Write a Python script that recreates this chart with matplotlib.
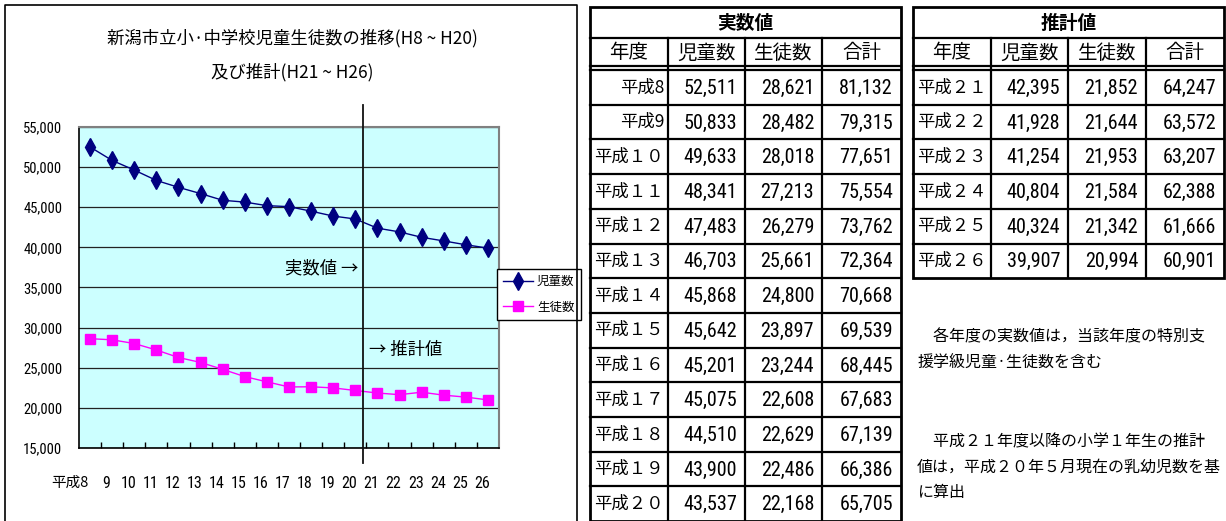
import matplotlib
matplotlib.use('Agg')
import matplotlib.pyplot as plt
from matplotlib import font_manager
from matplotlib.font_manager import FontProperties
from matplotlib.patches import Rectangle
from matplotlib.transforms import ScaledTranslation
from matplotlib.ticker import FuncFormatter, FixedLocator

W, H = 1226, 521
JP = 'Noto Sans CJK JP'

# narrow font for the numbers if one is around
narrow_path = None
for key in ['LiberationSansNarrow-Regular', 'RobotoCondensed-Regular', 'DejaVuSansCondensed.ttf']:
    for f in font_manager.fontManager.ttflist:
        if key in f.fname:
            narrow_path = f.fname
            break
    if narrow_path:
        break
NUM_SCALE = 1.0
if narrow_path is None:
    narrow_path = font_manager.findfont('Liberation Sans')
    NUM_SCALE = 0.93
elif 'DejaVu' in narrow_path:
    NUM_SCALE = 0.9


def num_font(size):
    return FontProperties(fname=narrow_path, size=size * NUM_SCALE)


plt.rcParams['font.family'] = [JP, 'DejaVu Sans']

# --- data ---
chart_labels = ['平成8', '9', '10', '11', '12', '13', '14', '15', '16', '17',
                '18', '19', '20', '21', '22', '23', '24', '25', '26']

years_actual = ['平成8', '平成9', '平成１０', '平成１１', '平成１２', '平成１３', '平成１４',
                '平成１５', '平成１６', '平成１７', '平成１８', '平成１９', '平成２０']
children_actual = [52511, 50833, 49633, 48341, 47483, 46703, 45868, 45642, 45201, 45075, 44510, 43900, 43537]
students_actual = [28621, 28482, 28018, 27213, 26279, 25661, 24800, 23897, 23244, 22608, 22629, 22486, 22168]
total_actual = [81132, 79315, 77651, 75554, 73762, 72364, 70668, 69539, 68445, 67683, 67139, 66386, 65705]

years_est = ['平成２１', '平成２２', '平成２３', '平成２４', '平成２５', '平成２６']
children_est = [42395, 41928, 41254, 40804, 40324, 39907]
students_est = [21852, 21644, 21953, 21584, 21342, 20994]
total_est = [64247, 63572, 63207, 62388, 61666, 60901]

col_heads = ['年度', '児童数', '生徒数', '合計']

note1 = ['\u3000各年度の実数値は，当該年度の特別支', '援学級児童·生徒数を含む']
note2 = ['\u3000平成２１年度以降の小学１年生の推計', '値は，平成２０年５月現在の乳幼児数を基', 'に算出']


def fx(x):
    return x / W


def fy(y):
    return 1 - y / H


fig = plt.figure(figsize=(W / 100, H / 100), dpi=100)
fig.patch.set_facecolor('white')

# overlay in pixel coordinates for frame / tables / notes
ov = fig.add_axes([0, 0, 1, 1])
ov.set_xlim(0, W)
ov.set_ylim(H, 0)
ov.axis('off')

# chart frame
ov.plot([5, 5, 577, 577], [H + 5, 5, 5, H + 5], color='black', lw=1.2, clip_on=False)

# title
ov.text(292, 38, '新潟市立小·中学校児童生徒数の推移(H8 ~ H20)', ha='center', va='center', fontsize=12.5)
ov.text(292, 72, '及び推計(H21 ~ H26)', ha='center', va='center', fontsize=12.5)


def draw_table(edges, title, labels, c1, c2, c3):
    top, r1, r2 = 7, 38, 66
    y0, rh = 70, 34.7
    n = len(labels)
    bottom = y0 + n * rh
    left, right = edges[0], edges[-1]
    ov.add_patch(Rectangle((left, top), right - left, bottom - top, fill=False,
                           ec='black', lw=2.0, clip_on=False))
    ov.plot([left, right], [r1, r1], color='black', lw=1.6)
    ov.plot([left, right], [r2, r2], color='black', lw=1.6)
    ov.plot([left, right], [r2 + 4, r2 + 4], color='black', lw=1.6)
    for e in edges[1:-1]:
        ov.plot([e, e], [r1, bottom], color='black', lw=1.6, clip_on=False)
    for k in range(1, n):
        y = y0 + k * rh
        ov.plot([left, right], [y, y], color='black', lw=1.6)
    ov.text((left + right) / 2, (top + r1) / 2 + 1, title, ha='center', va='center',
            fontsize=13.5, fontweight='bold')
    for j, h in enumerate(col_heads):
        ov.text((edges[j] + edges[j + 1]) / 2, (r1 + r2) / 2 + 1, h, ha='center', va='center', fontsize=14)
    for i in range(n):
        yc = y0 + (i + 0.5) * rh
        ov.text(edges[1] - 4, yc, labels[i], ha='right', va='center', fontsize=12.5)
        for j, col in enumerate([c1, c2, c3]):
            ov.text(edges[j + 2] - 8, yc + 1, f'{col[i]:,}', ha='right', va='center',
                    fontproperties=num_font(14.5))


draw_table([590, 668, 745, 822, 901], '実数値', years_actual, children_actual, students_actual, total_actual)
draw_table([913, 991, 1068, 1146, 1224], '推計値', years_est, children_est, students_est, total_est)

for i, line in enumerate(note1):
    ov.text(917, 337 + i * 25, line, ha='left', va='center', fontsize=11.5)
for i, line in enumerate(note2):
    ov.text(917, 442 + i * 25, line, ha='left', va='center', fontsize=11.5)

# --- chart ---
ax = fig.add_axes([fx(79), fy(448), 420 / W, 321 / H])
ax.set_facecolor('#CCFFFF')
x = list(range(len(chart_labels)))
children = children_actual + children_est
students = students_actual + students_est

ax.set_xlim(-0.5, len(x) - 0.5)
ax.set_ylim(15000, 55000)
ax.set_yticks(range(15000, 55001, 5000))
ax.yaxis.set_major_formatter(FuncFormatter(lambda v, p: f'{int(v):,}'))
ax.yaxis.grid(True, color='#222222', lw=0.9)
ax.set_axisbelow(True)

ax.plot(x, children, color='#000080', lw=1.0, marker='d', ms=9, mfc='#000080', mec='#000080', label='児童数', zorder=3)
ax.plot(x, students, color='#FF00FF', lw=1.0, marker='s', ms=6.5, mfc='#FF00FF', mec='#FF00FF', label='生徒数', zorder=3)

split = len(years_actual) - 0.65
ax.axvline(split, ymin=-0.047, ymax=1.069, color='#111111', lw=1.3, clip_on=False, zorder=4)

ax.set_xticks(x)
ax.set_xticklabels(chart_labels)
ax.xaxis.set_minor_locator(FixedLocator([i + 0.5 for i in x[:-1]]))
ax.tick_params(axis='x', which='major', length=0, pad=20)
ax.tick_params(axis='x', which='minor', length=4, direction='in', width=1, color='black')
ax.tick_params(axis='y', length=0, pad=12)
for lbl in ax.get_yticklabels():
    lbl.set_fontproperties(num_font(10.5))
shift = ScaledTranslation(-6 / 100, 0, fig.dpi_scale_trans)
first_shift = ScaledTranslation(-2 / 100, 0, fig.dpi_scale_trans)
for i, lbl in enumerate(ax.get_xticklabels()):
    if i == 0:
        lbl.set_fontsize(10.5)
        lbl.set_horizontalalignment('right')
        lbl.set_transform(lbl.get_transform() + first_shift)
    else:
        lbl.set_fontproperties(num_font(11.5))
        lbl.set_transform(lbl.get_transform() + shift)

for s in ['top', 'right']:
    ax.spines[s].set_color('#808080')
    ax.spines[s].set_linewidth(1.5)
for s in ['left', 'bottom']:
    ax.spines[s].set_color('black')
    ax.spines[s].set_linewidth(1.2)

leg = ax.legend(loc='upper left', bbox_to_anchor=(fx(497), fy(269)), bbox_transform=fig.transFigure,
                fancybox=False, edgecolor='black', framealpha=1, fontsize=9,
                handlelength=2.4, borderpad=0.5, labelspacing=1.0, handletextpad=0.3, borderaxespad=0)
leg.get_frame().set_linewidth(1.0)

ov.text(358, 268, '実数値 →', ha='right', va='center', fontsize=12.5)
ov.text(369, 350, '→ 推計値', ha='left', va='center', fontsize=12.5)
ov.set_zorder(ax.get_zorder() + 1)

fig.savefig('out.png', dpi=100)
